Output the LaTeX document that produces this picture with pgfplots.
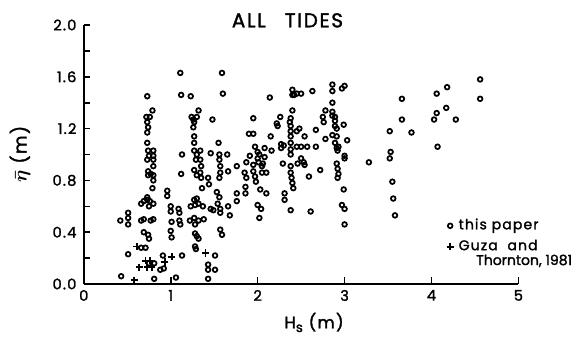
\documentclass[border=0pt]{standalone}
\usepackage{amsmath}
\usepackage{fontspec}
\setmainfont{Poppins}[LetterSpace=8, FakeBold=1.6]
\usepackage{pgfplots}
\pgfplotsset{compat=1.18}
\pgfplotstableread{
x y
0.43 0.06
0.42 0.49
0.51 0.55
0.51 0.51
0.51 0.46
0.51 0.23
0.73 1.45
0.72 1.29
0.76 1.29
0.79 1.34
0.73 1.25
0.74 1.21
0.73 1.17
0.73 1.09
0.74 1.03
0.80 1.03
0.75 0.99
0.80 0.99
0.73 0.96
0.80 0.96
0.80 0.91
0.74 0.87
0.77 0.85
0.74 0.84
0.80 0.84
0.80 0.80
0.79 0.74
0.73 0.67
0.66 0.62
0.69 0.64
0.73 0.65
0.76 0.64
0.80 0.62
0.75 0.60
0.66 0.49
0.69 0.50
0.77 0.49
0.80 0.50
0.69 0.40
0.74 0.38
0.75 0.35
0.71 0.28
0.66 0.28
0.81 0.16
0.75 0.16
0.81 0.04
0.91 0.22
0.92 0.12
0.88 0.11
0.96 0.72
0.96 0.68
1.00 0.60
1.00 0.56
1.01 0.48
1.00 0.41
1.01 0.36
1.06 0.05
1.11 1.63
1.12 1.46
1.13 1.00
1.12 0.85
1.09 0.58
1.10 0.55
1.10 0.49
1.11 0.46
1.13 0.22
1.23 1.45
1.24 1.29
1.26 1.27
1.27 1.25
1.30 1.29
1.32 1.34
1.26 1.21
1.27 1.14
1.27 1.09
1.27 1.03
1.30 1.00
1.34 1.03
1.34 0.96
1.29 0.96
1.27 0.88
1.30 0.84
1.34 0.86
1.35 0.82
1.35 0.91
1.36 0.74
1.27 0.65
1.30 0.66
1.28 0.61
1.23 0.60
1.32 0.62
1.37 0.60
1.22 0.49
1.27 0.51
1.32 0.49
1.28 0.46
1.38 0.50
1.28 0.39
1.30 0.37
1.32 0.35
1.28 0.29
1.29 0.27
1.43 0.82
1.44 0.77
1.46 0.58
1.49 0.57
1.46 1.01
1.48 1.27
1.51 0.22
1.43 0.15
1.43 0.11
1.43 0.04
1.51 0.11
1.59 1.63
1.60 1.47
1.55 1.09
1.56 1.00
1.56 0.96
1.57 0.91
1.57 0.86
1.56 0.82
1.53 0.71
1.56 0.67
1.54 0.62
1.57 0.58
1.57 0.55
1.65 1.00
1.66 0.87
1.66 0.60
1.68 0.53
1.57 0.42
1.59 0.38
1.76 0.91
1.76 0.70
1.76 0.64
1.85 0.86
1.86 0.75
1.86 0.70
1.87 0.94
1.87 0.82
1.91 0.99
1.90 1.16
1.95 1.16
1.95 1.28
1.95 0.92
1.95 0.87
1.97 0.83
1.98 0.79
1.97 1.06
2.00 1.02
2.02 1.00
2.00 0.97
2.01 0.94
2.05 0.91
2.05 0.86
2.00 0.61
2.04 0.58
2.02 0.51
2.03 0.73
2.08 1.05
2.08 0.98
2.06 0.93
2.10 0.86
2.10 0.70
2.14 1.44
2.15 1.14
2.16 1.03
2.22 1.24
2.23 1.22
2.26 1.29
2.27 1.08
2.27 1.05
2.30 1.07
2.29 0.93
2.31 0.70
2.31 0.65
2.38 1.28
2.37 1.25
2.38 1.22
2.38 1.18
2.38 1.14
2.38 1.09
2.38 1.04
2.38 1.00
2.40 1.34
2.40 1.50
2.40 1.46
2.38 0.91
2.38 0.86
2.39 0.82
2.40 0.78
2.41 0.74
2.38 0.57
2.42 1.46
2.45 1.47
2.50 1.47
2.45 1.18
2.48 1.20
2.45 1.06
2.50 1.06
2.46 0.93
2.50 0.97
2.53 0.94
2.54 0.92
2.57 1.06
2.54 1.14
2.59 0.83
2.61 0.56
2.63 1.49
2.67 1.19
2.67 1.06
2.72 0.88
2.75 1.29
2.76 1.25
2.78 1.34
2.78 1.12
2.86 1.54
2.86 1.49
2.86 1.40
2.86 1.33
2.86 1.30
2.89 1.29
2.89 1.26
2.89 1.22
2.91 1.20
2.86 1.15
2.91 1.14
2.89 1.09
2.91 1.05
2.93 1.06
2.92 1.03
2.97 1.51
3.00 1.53
2.99 1.23
3.03 1.11
2.91 0.93
2.92 0.89
2.93 0.85
2.92 0.82
3.00 0.97
3.00 0.99
2.99 0.73
2.97 0.61
3.00 0.58
3.00 0.46
3.28 0.94
3.52 1.18
3.53 1.02
3.52 0.97
3.55 0.79
3.56 0.66
3.58 0.53
3.66 1.43
3.66 1.27
3.77 1.17
4.03 1.27
4.06 1.32
4.06 1.47
4.07 1.06
4.18 1.52
4.17 1.36
4.28 1.27
4.56 1.58
4.56 1.43
}\paper
\pgfplotstableread{
x y
0.58 0.03
0.61 0.29
0.76 0.18
0.71 0.18
0.64 0.13
0.73 0.13
0.78 0.13
0.93 0.17
1.01 0.21
1.40 0.24
}\guza
\begin{document}
\begin{tikzpicture}
\begin{axis}[
  at={(62.85pt,39.75pt)}, anchor=south west,
  scale only axis, width=325.95pt, height=194.25pt,
  xmin=0, xmax=5, ymin=0, ymax=2,
  clip=false,
  axis lines*=left,
  axis line style={line width=1.4pt, -},
  tick align=inside,
  xtick={0,1,2,3,4,5},
  xticklabels={0,1,2,3,4,5},
  ytick={0,0.2,0.4,0.6,0.8,1.0,1.2,1.4,1.6,1.8,2.0},
  yticklabels={0.0,,0.4,,0.8,,1.2,,1.6,,2.0},
  major tick style={line width=1.2pt, black},
  major tick length=5pt,
  tick label style={font=\fontsize{11}{12}\selectfont},
  xticklabel style={yshift=-1pt},
  yticklabel style={xshift=-2pt},
  legend style={draw=none, fill=none, inner xsep=0pt, inner ysep=0pt,
    at={(0.8342,0.2525)}, anchor=north west,
    font=\fontsize{10.5}{12}\selectfont,
    nodes={inner sep=0pt, text height=7.8pt, text depth=2.6pt},
    row sep=5.3pt, column sep=3.7pt},
  legend cell align=left,
  legend image code/.code={\draw[#1] plot coordinates {(0pt,0pt)};},
]
\addplot[only marks, mark=o, mark size=1.75pt, mark options={line width=1.3pt, black}] table {\paper};
\addlegendentry{this paper}
\addplot[only marks, mark=+, mark size=2.7pt, mark options={line width=1.4pt, black}] table {\guza};
\addlegendentry{Guza\ \ and}
\end{axis}
\node[font=\fontsize{10.5}{12}\selectfont\addfontfeatures{LetterSpace=0}, anchor=base west, inner sep=0pt] at (357pt,54pt) {Thornton, 1981};
\node[font=\fontsize{15}{17}\selectfont] at (215.6pt,237.5pt) {ALL\hspace{0.6em} TIDES};
\node[font=\fontsize{12.5}{14}\selectfont, anchor=base] at (235.5pt,6.5pt) {H\raisebox{-0.4ex}{\fontsize{10}{12}\selectfont s} (m)};
\node[font=\fontsize{13.5}{15}\selectfont, rotate=90] at (15pt,137.25pt) {$\boldsymbol{\bar{\eta}}$ (m)};
\pgfresetboundingbox
\path[use as bounding box] (0,0) rectangle (432pt,252.75pt);
\end{tikzpicture}
\end{document}
